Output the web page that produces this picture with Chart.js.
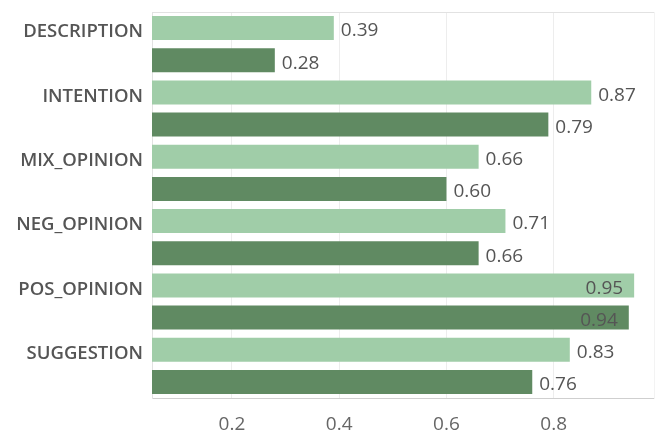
<!DOCTYPE html>
<html>
<head>
<meta charset="utf-8">
<script src="https://cdn.jsdelivr.net/npm/chart.js@4"></script>
<style>
  html, body { margin: 0; padding: 0; background: #fff; }
  #wrap { width: 659px; height: 433px; }
</style>
</head>
<body>
<div id="wrap"><canvas id="chart" width="659" height="433"></canvas></div>
<script>
// categories and the two series
const categories = ["DESCRIPTION", "INTENTION", "MIX_OPINION", "NEG_OPINION", "POS_OPINION", "SUGGESTION"];
const lightValues = [0.39, 0.87, 0.66, 0.71, 0.95, 0.83];
const darkValues = [0.28, 0.79, 0.60, 0.66, 0.94, 0.76];
const xTicks = [0.2, 0.4, 0.6, 0.8];

const lightColor = "#a0cda8";
const darkColor = "#608a62";

// value labels: right of the bar, or inside when there is no room
const valueLabels = {
  id: "valueLabels",
  afterDatasetsDraw(chart) {
    const ctx = chart.ctx;
    const area = chart.chartArea;
    ctx.save();
    ctx.font = "19px 'Open Sans'";
    ctx.fillStyle = "#555";
    ctx.textBaseline = "middle";
    chart.data.datasets.forEach((ds, i) => {
      chart.getDatasetMeta(i).data.forEach((bar, j) => {
        const txt = ds.data[j].toFixed(2);
        const w = ctx.measureText(txt).width;
        if (bar.x + 7 + w > area.right) {
          ctx.textAlign = "right";
          ctx.fillText(txt, bar.x - 11, bar.y + 3);
        } else {
          ctx.textAlign = "left";
          ctx.fillText(txt, bar.x + 7, bar.y + 3);
        }
      });
    });
    ctx.restore();
  }
};

new Chart(document.getElementById("chart").getContext("2d"), {
  type: "bar",
  data: {
    labels: categories,
    datasets: [
      { data: lightValues, backgroundColor: lightColor, categoryPercentage: 1, barPercentage: 0.746 },
      { data: darkValues, backgroundColor: darkColor, categoryPercentage: 1, barPercentage: 0.746 }
    ]
  },
  options: {
    indexAxis: "y",
    responsive: false,
    animation: false,
    layout: { padding: { right: 5, top: 0, bottom: 0, left: 0 } },
    plugins: { legend: { display: false }, tooltip: { enabled: false } },
    scales: {
      x: {
        min: 0.051,
        max: 0.987,
        afterBuildTicks: s => { s.ticks = xTicks.map(v => ({ value: v })); },
        afterFit: s => { s.height = 35; },
        grid: { color: "#ededed", drawTicks: false },
        border: { color: "#cfcfcf" },
        ticks: {
          padding: 15,
          color: "#666",
          font: { family: "Open Sans", size: 19 },
          callback: v => v.toFixed(1)
        }
      },
      x2: {
        position: "top",
        min: 0.051,
        max: 0.987,
        afterFit: s => { s.height = 12; },
        grid: { display: false },
        border: { color: "#e2e2e2" },
        ticks: { display: false }
      },
      y: {
        afterFit: s => { s.width = 152; s.paddingTop = 0; s.paddingBottom = 0; },
        grid: { display: false, drawTicks: false },
        border: { color: "#e2e2e2" },
        ticks: {
          padding: 9,
          labelOffset: -12,
          color: "#555",
          font: { family: "Open Sans", size: 18.5, weight: "600" }
        }
      },
      y2: {
        position: "right",
        afterFit: s => { s.width = 0; s.paddingTop = 0; s.paddingBottom = 0; },
        grid: { display: false },
        border: { color: "#f3f3f3" },
        ticks: { display: false }
      }
    }
  },
  plugins: [valueLabels]
});
</script>
</body>
</html>
